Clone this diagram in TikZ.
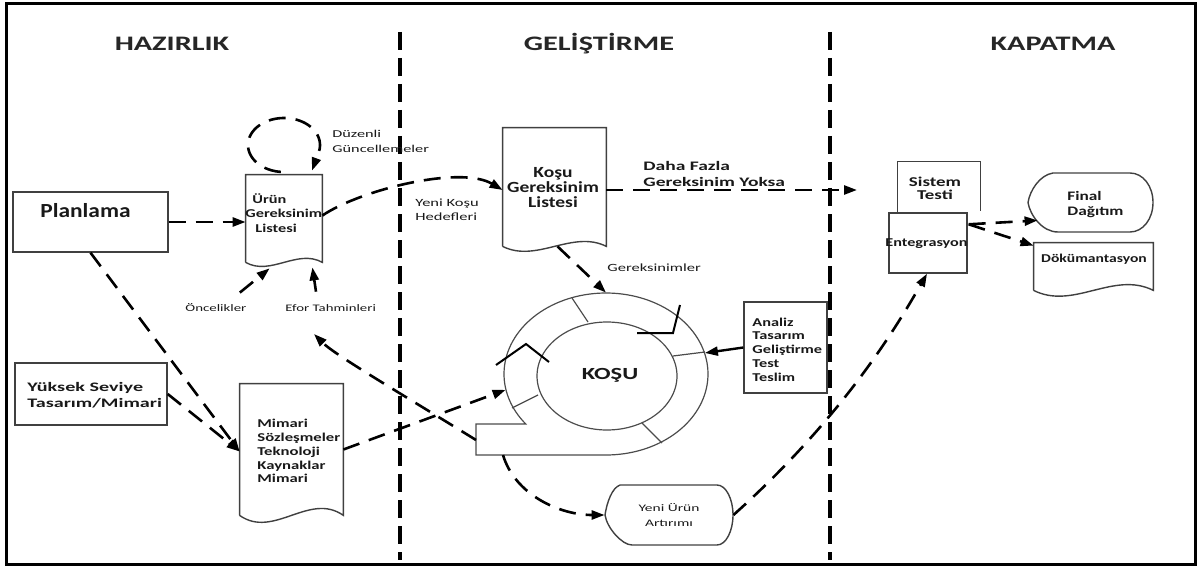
\documentclass[tikz,border=0pt]{standalone}
\usepackage{fontspec}
\setmainfont{Carlito}
\usepackage{graphicx}
\usetikzlibrary{arrows.meta,shapes.geometric,fit,calc}
\newcommand{\sx}[2]{\scalebox{#1}[1]{#2}}
\newcommand{\lns}[2]{\begin{tabular}[t]{@{}#1@{}}#2\end{tabular}}
\begin{document}
\begin{tikzpicture}[x=0.5pt,y=-0.5pt,
  frameline/.style={line width=1.5pt},
  sepline/.style={line width=1.6pt, dash pattern=on 9pt off 4pt},
  conn/.style={line width=1.3pt, dash pattern=on 8.5pt off 5pt, -{Triangle[length=6.5pt,width=4.5pt]}},
  solidconn/.style={line width=1.2pt, -{Triangle[length=6.5pt,width=4.5pt]}},
  shapeline/.style={draw=black!75, line width=0.7pt},
  ringline/.style={draw=black!70, line width=0.6pt},
  chev/.style={line width=1pt, draw=black},
  txt/.style={inner sep=0pt, text=black!90},
  hdr/.style={txt, anchor=base, text=black!85, font=\fontsize{10.3pt}{12pt}\selectfont\bfseries},
  bold6/.style={txt, font=\fontsize{6pt}{6.9pt}\selectfont\bfseries},
  reg5/.style={txt, font=\fontsize{5pt}{6pt}\selectfont},
]
\useasboundingbox (0,0) rectangle (1200,567);
\draw[frameline] (6,4) rectangle (1195,564);

% phase separators
\coordinate (s1t) at (400,32); \coordinate (s1b) at (400,560);
\coordinate (s2t) at (830,32); \coordinate (s2b) at (830,560);
\draw[sepline] (s1t) -- (s1b);
\draw[sepline] (s2t) -- (s2b);

% headers
\node[hdr] (hHaz) at (172,51) {\sx{1.47}{HAZIRLIK}};
\node[hdr] (hGel) at (599,51) {\sx{1.47}{GELİŞTİRME}};
\node[hdr] (hKap) at (1053,51) {\sx{1.47}{KAPATMA}};

% Planlama
\node[shapeline, fit={(13,192)(168,252)}, inner sep=0pt] (plan) {};
\node[txt, anchor=base west, font=\fontsize{10pt}{12pt}\selectfont\bfseries] (planT) at (40,218) {\sx{1.17}{Planlama}};

% Yuksek Seviye
\node[shapeline, fit={(15,363)(167,425)}, inner sep=0pt] (yuk) {};
\node[txt, anchor=base west, font=\fontsize{6.5pt}{8pt}\selectfont\bfseries] (yukT) at (27,391) {\sx{1.55}{\lns{l}{Yüksek Seviye\\Tasarım/Mimari}}};

% Urun Gereksinim Listesi (document)
\node[fit={(246,175)(322,262)}, inner sep=0pt] (urun) {};
\draw[shapeline] (urun.south west) -- (urun.north west) -- (urun.north east) -- (urun.south east)
  .. controls +(-25,-14) and +(25,14) .. (urun.south west);
\node[txt, anchor=base west, font=\fontsize{6pt}{7pt}\selectfont\bfseries] (urunT) at (245,204)
  {\sx{1.36}{\lns{l}{\hspace{2.6pt}Ürün\\Gereksinim\\\hspace{3.7pt}Listesi}}};

% regular updates loop
\draw[conn] plot[domain=95:375, samples=70, variable=\t] ({284+36*cos(\t)},{145+27*sin(\t)})
  -- ($(urun.north)+(28,-4)$);
\node[txt, anchor=base west, font=\fontsize{5.25pt}{7.5pt}\selectfont] (duzT) at (332,138)
  {\sx{1.55}{\lns{l}{Düzenli\\Güncellemeler}}};

% Planlama -> Urun
\draw[conn] (plan.east) -- (plan.east -| urun.west);

% Oncelikler / Efor
\node[reg5, anchor=base west] (oncT) at (185,311) {\sx{1.49}{Öncelikler}};
\node[reg5, anchor=base west] (eforT) at (285,311) {\sx{1.48}{Efor Tahminleri}};
\draw[conn] ($(oncT.north east)+(-7,-10)$) -- ($(urun.south west)+(24,6)$);
\draw[conn] ($(eforT.north west)+(31,-12)$) -- ($(urun.south east)+(-10,5)$);

% Kosu Gereksinim Listesi (document)
\node[fit={(503,128)(606,246)}, inner sep=0pt] (kosu) {};
\draw[shapeline] (kosu.south west) -- (kosu.north west) -- (kosu.north east) -- (kosu.south east)
  .. controls +(-34,-17) and +(34,17) .. (kosu.south west);
\node[txt, anchor=base, font=\fontsize{7.75pt}{7.5pt}\selectfont\bfseries] (kosuT) at (553,177)
  {\sx{1.26}{\lns{c}{Koşu\\Gereksinim\\Listesi}}};

% Urun -> Kosu
\draw[conn] ($(urun.east)+(0,-3)$) .. controls (360,190) and (460,165) .. ($(kosu.west)+(0,3)$);
\node[txt, anchor=base west, font=\fontsize{5.5pt}{7pt}\selectfont] (yeniK) at (415,206)
  {\sx{1.5}{\lns{l}{Yeni Koşu\\Hedefleri}}};

% Kosu -> no more requirements
\coordinate (noMore) at (857,190);
\draw[conn] ($(kosu.east)+(0,3)$) -- (noMore);
\node[txt, anchor=base west, font=\fontsize{6.5pt}{8pt}\selectfont\bfseries] (dahaT) at (643,170)
  {\sx{1.5}{\lns{l}{Daha Fazla\\Gereksinim Yoksa}}};

% Sprint ring
\node[ellipse, minimum width=102pt, minimum height=81pt, inner sep=0pt] (ring) at (606,374) {};
\draw[ringline] plot[domain=141.9:450, samples=120, variable=\t] ({606+102*cos(\t)},{374+81*sin(\t)})
  -- (476,455) -- (476,424) -- cycle;
\draw[ringline] plot[domain=0:360, samples=120, variable=\t] ({607+70*cos(\t)},{376+54*sin(\t)}) -- cycle;
\draw[ringline] (572,298) -- (588,322);
\draw[ringline] (673,356) -- (705,352);
\draw[ringline] (642,423) -- (662,443);
\draw[ringline] (512,408) -- (538,395);
\draw[chev] (637,333) -- (673,333) -- (680,305);
\draw[chev] (496,365) -- (526,344) -- (549,362);
\node[txt, anchor=base, font=\fontsize{8.5pt}{10pt}\selectfont\bfseries] (kosuC) at (610,379) {\sx{1.44}{KOŞU}};
\coordinate (tailL) at (476,440);
\coordinate (tailB) at (503,455);

% Kosu list -> ring
\draw[conn] ($(kosu.south)+(3,0)$) -- (ring.north);
\node[txt, anchor=base west, font=\fontsize{5.5pt}{7pt}\selectfont] (gerT) at (607,271) {\sx{1.5}{Gereksinimler}};

% Analiz box
\node[shapeline, fit={(744,302)(827,393)}, inner sep=0pt] (anal) {};
\node[bold6, anchor=base west] (analT) at (752,326)
  {\sx{1.36}{\lns{l}{Analiz\\Tasarım\\Geliştirme\\Test\\Teslim}}};
\draw[solidconn] (anal.west) -- (ring.12);

% Mimari (document)
\node[fit={(240,384)(343,515)}, inner sep=0pt] (mim) {};
\draw[shapeline] (mim.south west) -- (mim.north west) -- (mim.north east) -- (mim.south east)
  .. controls +(-34,-24) and +(34,24) .. (mim.south west);
\node[bold6, anchor=base west] (mimT) at (257,427.7)
  {\sx{1.39}{\lns{l}{Mimari\\Sözleşmeler\\Teknoloji\\Kaynaklar\\Mimari}}};

\draw[conn] (plan.south) -- ($(mim.west)+(0,2)$);
\draw[conn] (yuk.east) -- ($(mim.west)+(0,2)$);
\draw[conn] (mim.east) -- (ring.189);

% back to product backlog
\coordinate (backEnd) at (314,334);
\draw[conn] (tailL) .. controls (400,393) and (335,355) .. (backEnd);

% Yeni Urun Artirimi
\node[fit={(605,485)(733,545)}, inner sep=0pt] (yeni) {};
\draw[shapeline] (620,485) -- (717,485) .. controls (726,485) and (733,499) .. (733,515)
  .. controls (733,531) and (726,545) .. (717,545) -- (632,545)
  .. controls (622,545) and (607,528) .. (605,515) .. controls (607,502) and (612,488) .. (620,485);
\node[txt, anchor=base, font=\fontsize{5pt}{7.25pt}\selectfont] (yeniT) at (669,511.7)
  {\sx{1.55}{\lns{c}{Yeni Ürün\\Artırımı}}};
\draw[conn] (tailB) .. controls (515,495) and (560,515) .. (yeni.west);

% Sistem Testi + Entegrasyon
\node[fit={(898,162)(980,213)}, inner sep=0pt] (sis) {};
\draw[shapeline] (sis.south west) -- (sis.north west) -- (sis.north east) -- ($(sis.south east)+(0,-2)$);
\node[txt, anchor=base, font=\fontsize{6.75pt}{6.75pt}\selectfont\bfseries] (sisT) at (935,186)
  {\sx{1.4}{\lns{c}{Sistem\\Testi}}};
\node[shapeline, fill=white, fit={(889,213)(967,273)}, inner sep=0pt] (ent) {};
\node[bold6, anchor=base] (entT) at (926.5,246) {\sx{1.35}{Entegrasyon}};

\draw[conn] (yeni.east) .. controls (843,417) and (897,326) .. ($(ent.south)+(-1,0)$);

% Final Dagitim
\node[fit={(1028,173)(1153,232)}, inner sep=0pt] (fin) {};
\draw[shapeline] (1053,173) -- (1130,173) .. controls (1143,173) and (1153,186) .. (1153,202.5)
  .. controls (1153,219) and (1143,232) .. (1130,232) -- (1058,232)
  .. controls (1042,232) and (1030,215) .. (1028,202.5) .. controls (1030,190) and (1040,175) .. (1053,173);
\node[txt, anchor=base west, font=\fontsize{6.5pt}{7.5pt}\selectfont\bfseries] (finT) at (1067,200)
  {\sx{1.33}{\lns{l}{Final\\Dağıtım}}};

% Dokumantasyon (document)
\node[fit={(1034,243)(1153,290)}, inner sep=0pt] (dok) {};
\draw[shapeline] (dok.south west) -- (dok.north west) -- (dok.north east) -- (dok.south east)
  .. controls +(-40,-20) and +(40,20) .. (dok.south west);
\node[bold6, anchor=base] (dokT) at (1094,262.7) {\sx{1.3}{Dökümantasyon}};

\draw[conn] ($(ent.north east)+(1,12)$) -- ($(fin.south west)+(10,-12)$);
\draw[conn] ($(ent.north east)+(1,12)$) -- ($(dok.north west)+(0,3)$);
\end{tikzpicture}
\end{document}
